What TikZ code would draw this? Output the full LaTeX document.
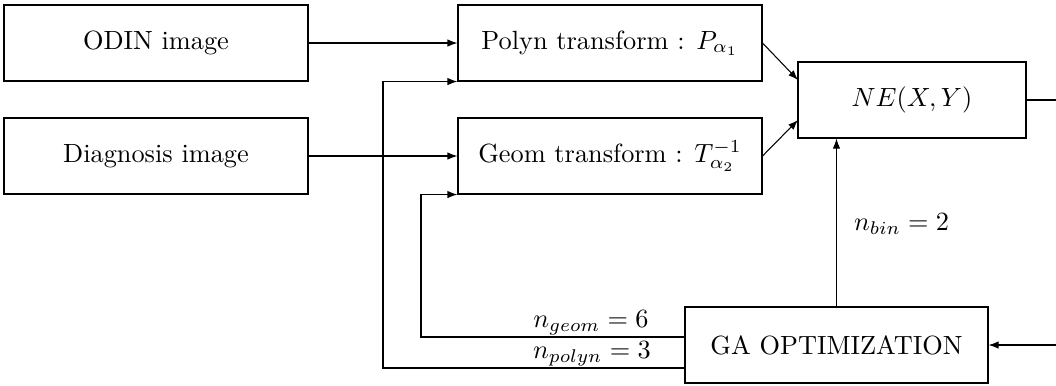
\documentclass[tikz,border=0pt]{standalone}
\usetikzlibrary{arrows.meta}
\newcommand{\pxu}{0.38pt}
\begin{document}
\begin{tikzpicture}[x=0.38pt,y=-0.38pt,
  blockbox/.style={draw,rectangle,inner sep=0pt,minimum height=76*\pxu},
  wide/.style={blockbox,minimum width=304*\pxu},
  flow/.style={-{Latex[length=3.8pt,width=2.8pt]}},
  lbl/.style={inner sep=0.6pt}]
\useasboundingbox (0,0) rectangle (1056,385);

% processing blocks
\node[wide] (odin)  at (156,43)  {ODIN image};
\node[wide] (diag)  at (156,156) {Diagnosis image};
\node[wide] (polyn) at (610,43)  {Polyn transform : $P_{\alpha_1}$};
\node[wide] (geom)  at (610,156) {Geom transform : $T_{\alpha_2}^{-1}$};
\node[blockbox,minimum width=228*\pxu] (ne) at (912,100) {$NE(X,Y)$};
\node[blockbox,minimum width=303*\pxu] (ga) at (836.5,345) {GA OPTIMIZATION};

% routing points
\coordinate (neinA) at (798,80);
\coordinate (neinB) at (798,120);
\coordinate (gturn) at (421,337);
\coordinate (pturn) at (383,368);
\coordinate (gout)  at (685,337);
\coordinate (pout)  at (685,368);
\coordinate (rtop)  at (1062,100);
\coordinate (rbot)  at (1062,345);

% forward flow
\draw[flow] (odin.east) -- (polyn.west);
\draw[flow] (diag.east) -- (geom.west);
\draw[flow] (polyn.east) -- (neinA);
\draw[flow] (geom.east) -- (neinB);
\draw[flow] (ga.north) -- (ga.north |- ne.south);
\node[lbl,anchor=west] (nbin) at (852,224) {$n_{bin}=2$};

% loop back from the criterion to the optimizer
\draw (ne.east) -- (rtop) -- (rbot);
\draw[flow] (rbot) -- (ga.east);

% parameter feedback to the transforms
\draw[flow] (gout) -- (gturn) |- (geom.south west);
\draw[flow] (pout) -- (pturn) |- (polyn.south west);
\node[lbl,anchor=south] (ngeom) at (591,337) {$n_{geom}=6$};
\node[lbl,anchor=south] (npoly) at (592,368) {$n_{polyn}=3$};
\end{tikzpicture}
\end{document}
